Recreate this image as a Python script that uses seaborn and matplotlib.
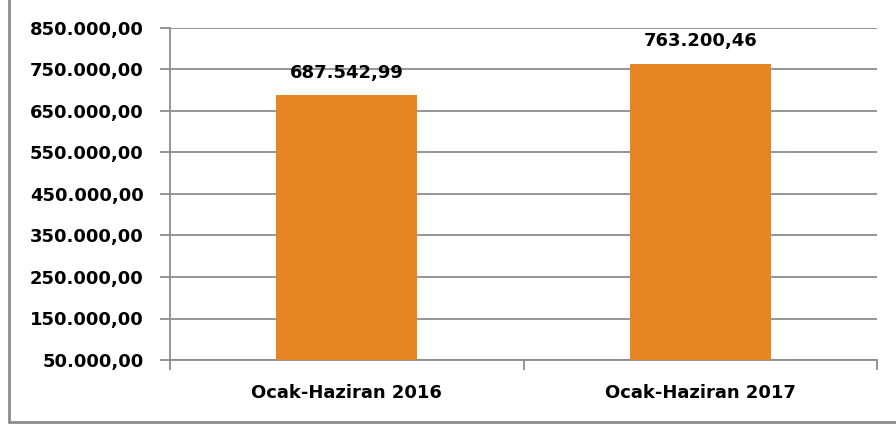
import matplotlib
matplotlib.use("Agg")
import matplotlib.pyplot as plt
import seaborn as sns
import pandas as pd
from matplotlib.lines import Line2D
from matplotlib.ticker import FixedLocator

categories = ["Ocak-Haziran 2016", "Ocak-Haziran 2017"]
values = [687542.99, 763200.46]
value_labels = ["687.542,99", "763.200,46"]
ytick_values = [50000, 150000, 250000, 350000, 450000, 550000, 650000, 750000, 850000]
ytick_labels = ["50.000,00", "150.000,00", "250.000,00", "350.000,00", "450.000,00",
                "550.000,00", "650.000,00", "750.000,00", "850.000,00"]

sns.set_theme(style="white")
plt.rcParams['font.family'] = ['DejaVu Sans']

df = pd.DataFrame({"cat": categories, "val": values})

fig = plt.figure(figsize=(8.96, 4.25), dpi=100)
ax = fig.add_axes([170/896, 1-360/425, (877-170)/896, (360-28)/425])

sns.barplot(data=df, x="cat", y="val", color="#E68523", width=0.4, ax=ax,
            saturation=1, zorder=3, linewidth=0, edgecolor="none")
ax.set_ylim(50000, 850000)
ax.set_xlim(-0.5, 1.5)
ax.set_yticks(ytick_values)
ax.set_yticklabels(ytick_labels, fontsize=13, fontweight="bold", color="black")
ax.yaxis.grid(True, color="#8c8c8c", linewidth=1.3, zorder=0)
ax.set_axisbelow(True)
ax.set_xlabel("")
ax.set_ylabel("")
ax.set_xticks([0, 1])
ax.set_xticklabels(categories, fontsize=13, fontweight="bold", color="black")
ax.tick_params(axis="x", length=0, pad=17)
ax.tick_params(axis="y", length=7, color="#8c8c8c", width=1.3, pad=12, left=True)
ax.xaxis.set_minor_locator(FixedLocator([-0.5, 0.5, 1.5]))
ax.tick_params(axis="x", which="minor", length=7, color="#8c8c8c", width=1.3, bottom=True)

for s in ["top", "right"]:
    ax.spines[s].set_visible(False)
for s in ["left", "bottom"]:
    ax.spines[s].set_color("#8c8c8c")
    ax.spines[s].set_linewidth(1.3)

for i, (v, lab) in enumerate(zip(values, value_labels)):
    ax.annotate(lab, (i, v), xytext=(0, 10), textcoords="offset points",
                ha="center", va="bottom", fontsize=13, fontweight="bold", color="black")

fig.add_artist(Line2D([8.5/896, 8.5/896], [1.0, 1-421.5/425], transform=fig.transFigure,
                      color="#8c8c8c", linewidth=2))
fig.add_artist(Line2D([8.5/896, 1.0], [1-421.5/425, 1-421.5/425], transform=fig.transFigure,
                      color="#8c8c8c", linewidth=2))

fig.savefig("out.png", dpi=100)
